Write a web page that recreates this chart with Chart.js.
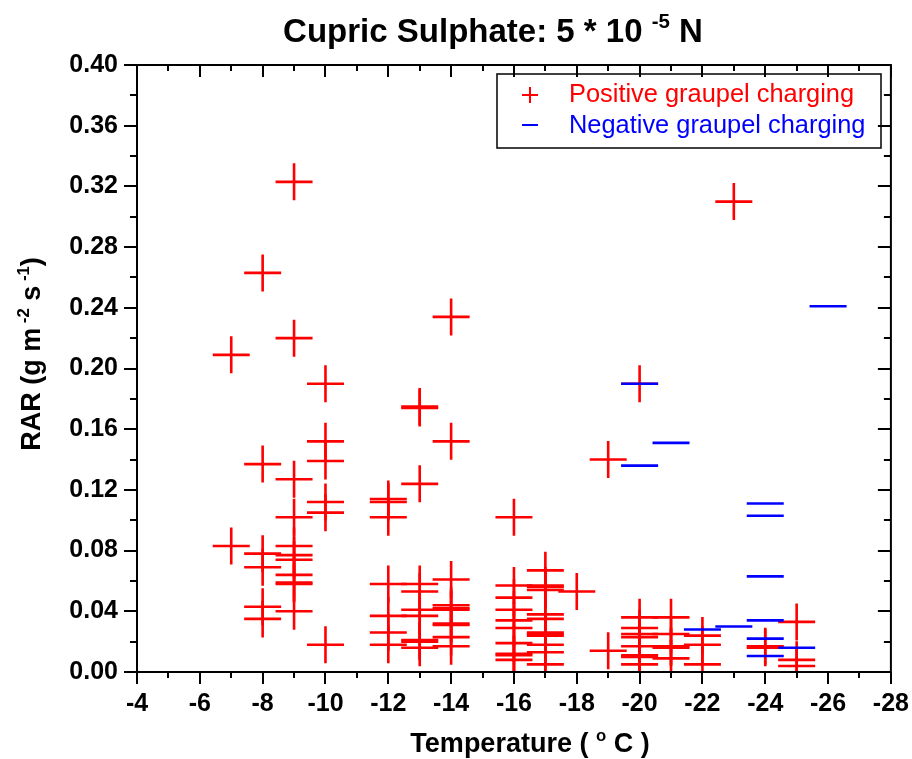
<!DOCTYPE html>
<html>
<head>
<meta charset="utf-8">
<script src="https://cdn.jsdelivr.net/npm/chart.js@4"></script>
<style>
  html, body { margin: 0; padding: 0; background: #fff; }
  #wrap { width: 912px; height: 759px; }
</style>
</head>
<body>
<div id="wrap"><canvas id="c" width="912" height="759"></canvas></div>
<script>
// ---------------- data ----------------
const posTemp = [
  -7, -7,
  -8, -8, -8, -8, -8, -8,
  -9, -9, -9, -9, -9, -9, -9, -9, -9, -9, -9,
  -10, -10, -10, -10, -10, -10,
  -12, -12, -12, -12, -12, -12, -12,
  -13, -13, -13, -13, -13, -13, -13, -13, -13, -13,
  -14, -14, -14, -14, -14, -14, -14, -14, -14, -14,
  -16, -16, -16, -16, -16, -16, -16, -16, -16, -16,
  -17, -17, -17, -17, -17, -17, -17, -17, -17, -17, -17, -17,
  -18,
  -19, -19,
  -20, -20, -20, -20, -20, -20, -20, -20, -20,
  -21, -21, -21, -21, -21,
  -22, -22, -22,
  -23,
  -24, -24,
  -25, -25, -25
];
const posRAR = [
  0.209, 0.083,
  0.263, 0.137, 0.078, 0.069, 0.043, 0.035,
  0.323, 0.220, 0.127, 0.102, 0.083, 0.077, 0.074, 0.064, 0.059, 0.058, 0.040,
  0.190, 0.152, 0.139, 0.112, 0.105, 0.018,
  0.114, 0.112, 0.102, 0.058, 0.037, 0.026, 0.018,
  0.175, 0.174, 0.124, 0.058, 0.053, 0.041, 0.037, 0.021, 0.020, 0.016,
  0.234, 0.152, 0.061, 0.044, 0.042, 0.041, 0.032, 0.031, 0.023, 0.017,
  0.102, 0.057, 0.049, 0.041, 0.034, 0.029, 0.019, 0.012, 0.011, 0.008,
  0.067, 0.057, 0.056, 0.054, 0.038, 0.035, 0.026, 0.025, 0.024, 0.018, 0.013, 0.005,
  0.053,
  0.140, 0.014,
  0.190, 0.036, 0.029, 0.025, 0.023, 0.017, 0.011, 0.010, 0.005,
  0.036, 0.025, 0.017, 0.016, 0.009,
  0.024, 0.018, 0.005,
  0.310,
  0.017, 0.016,
  0.033, 0.008, 0.004
];
const negTemp = [-20, -20, -21, -22, -23, -24, -24, -24, -24, -24, -24, -25, -26];
const negRAR  = [0.190, 0.136, 0.151, 0.028, 0.030, 0.111, 0.103, 0.063, 0.034, 0.022, 0.0105, 0.016, 0.241];

const xTickValues = [-4, -6, -8, -10, -12, -14, -16, -18, -20, -22, -24, -26, -28];
const yTickValues = [0.00, 0.04, 0.08, 0.12, 0.16, 0.20, 0.24, 0.28, 0.32, 0.36, 0.40];
const xMinorStep = 1;
const yMinorStep = 0.02;

const titleParts = [['Cupric Sulphate: 5 * 10 ', false], ['-5', true], [' N', false]];
const yTitleParts = [['RAR (g m', false], [' -2', true], [' s', false], [' -1', true], [')', false]];
const xTitleParts = [['Temperature ( ', false], ['o', true], [' C )', false]];
const legendLabels = ['Positive graupel charging', 'Negative graupel charging'];

// ---------------- helpers ----------------
const FONT = '"Liberation Sans", Arial, Helvetica, sans-serif';
function richWidth(ctx, parts, size, weight) {
  let w = 0;
  for (const [t, sup] of parts) {
    ctx.font = `${weight} ${sup ? size * 0.62 : size}px ${FONT}`;
    w += ctx.measureText(t).width;
  }
  return w;
}
function drawRich(ctx, parts, cx, baseY, size, weight, color) {
  const total = richWidth(ctx, parts, size, weight);
  let x = cx - total / 2;
  ctx.fillStyle = color;
  ctx.textAlign = 'left';
  ctx.textBaseline = 'alphabetic';
  for (const [t, sup] of parts) {
    const s = sup ? size * 0.62 : size;
    ctx.font = `${weight} ${s}px ${FONT}`;
    ctx.fillText(t, x, sup ? baseY - size * 0.42 : baseY);
    x += ctx.measureText(t).width;
  }
}

const decorPlugin = {
  id: 'decor',
  afterDraw(chart) {
    const { ctx, chartArea: a, scales: { x, y } } = chart;
    ctx.save();
    // frame
    ctx.strokeStyle = '#000';
    ctx.lineWidth = 2;
    ctx.strokeRect(a.left, a.top, a.right - a.left, a.bottom - a.top);
    // ticks
    ctx.beginPath();
    const xmin = x.min, xmax = x.max;
    for (let t = xmax; t >= xmin - 1e-9; t -= xMinorStep) {
      const px = Math.round(x.getPixelForValue(t));
      const major = Math.abs(Math.round(t) % 2) === 0;
      const L = major ? 12 : 6;
      ctx.moveTo(px, a.bottom); ctx.lineTo(px, a.bottom + L);
      ctx.moveTo(px, a.top); ctx.lineTo(px, a.top + L);
    }
    const n = Math.round((y.max - y.min) / yMinorStep);
    for (let k = 0; k <= n; k++) {
      const v = y.min + k * yMinorStep;
      const py = Math.round(y.getPixelForValue(v));
      const major = k % 2 === 0;
      const L = major ? 13 : 7;
      ctx.moveTo(a.left, py); ctx.lineTo(a.left - L, py);
      ctx.moveTo(a.right, py); ctx.lineTo(a.right - L, py);
    }
    ctx.stroke();

    // titles
    drawRich(ctx, titleParts, 493, 42, 33, 'bold', '#000');
    drawRich(ctx, xTitleParts, 530, 752, 27, 'bold', '#000');
    ctx.save();
    ctx.translate(40, 354);
    ctx.rotate(-Math.PI / 2);
    drawRich(ctx, yTitleParts, 0, 0, 27, 'bold', '#000');
    ctx.restore();

    // legend
    ctx.lineWidth = 1.5;
    ctx.strokeStyle = '#000';
    ctx.strokeRect(497, 74, 384, 74);
    ctx.lineWidth = 2;
    ctx.strokeStyle = '#ff0000';
    ctx.beginPath();
    ctx.moveTo(522, 95); ctx.lineTo(538, 95);
    ctx.moveTo(530, 87); ctx.lineTo(530, 103);
    ctx.stroke();
    ctx.strokeStyle = '#0000ff';
    ctx.beginPath();
    ctx.moveTo(522, 125); ctx.lineTo(538, 125);
    ctx.stroke();
    ctx.font = `25.4px ${FONT}`;
    ctx.textAlign = 'left';
    ctx.textBaseline = 'middle';
    ctx.fillStyle = '#ff0000';
    ctx.fillText(legendLabels[0], 569, 95);
    ctx.fillStyle = '#0000ff';
    ctx.fillText(legendLabels[1], 569, 126);
    ctx.restore();
  }
};

const posData = posTemp.map((t, i) => ({ x: t, y: posRAR[i] }));
const negData = negTemp.map((t, i) => ({ x: t, y: negRAR[i] }));

new Chart(document.getElementById('c'), {
  type: 'scatter',
  data: {
    datasets: [
      {
        label: legendLabels[1], data: negData, order: 0,
        pointStyle: 'line', pointRadius: 18.5, pointHoverRadius: 18.5,
        borderColor: '#0000ff', backgroundColor: '#0000ff', pointBorderWidth: 2.6, borderWidth: 2.6, clip: 0
      },
      {
        label: legendLabels[0], data: posData, order: 1,
        pointStyle: 'cross', pointRadius: 18.5, pointHoverRadius: 18.5,
        borderColor: '#ff0000', backgroundColor: '#ff0000', pointBorderWidth: 2.6, borderWidth: 2.6, clip: 0
      }
    ]
  },
  options: {
    responsive: false,
    animation: false,
    events: [],
    layout: { padding: { top: 65, right: 19, bottom: 0, left: 0 } },
    plugins: { legend: { display: false }, title: { display: false }, tooltip: { enabled: false } },
    scales: {
      x: {
        type: 'linear', reverse: true, min: -28, max: -4,
        grid: { display: false, drawTicks: false },
        border: { display: false },
        afterBuildTicks: s => { s.ticks = xTickValues.map(v => ({ value: v })); },
        ticks: {
          autoSkip: false, maxRotation: 0, padding: 17, color: '#000',
          font: { family: FONT, size: 25, weight: 'bold' },
          callback: v => String(v)
        },
        afterFit: s => { s.height = 87; s.paddingLeft = 0; s.paddingRight = 0; }
      },
      y: {
        type: 'linear', min: 0, max: 0.40,
        grid: { display: false, drawTicks: false },
        border: { display: false },
        afterBuildTicks: s => { s.ticks = yTickValues.map(v => ({ value: v })); },
        ticks: {
          autoSkip: false, padding: 19, color: '#000',
          font: { family: FONT, size: 25, weight: 'bold' },
          callback: v => Number(v).toFixed(2)
        },
        afterFit: s => { s.width = 137; s.paddingTop = 0; s.paddingBottom = 0; }
      }
    }
  },
  plugins: [decorPlugin]
});
</script>
</body>
</html>
